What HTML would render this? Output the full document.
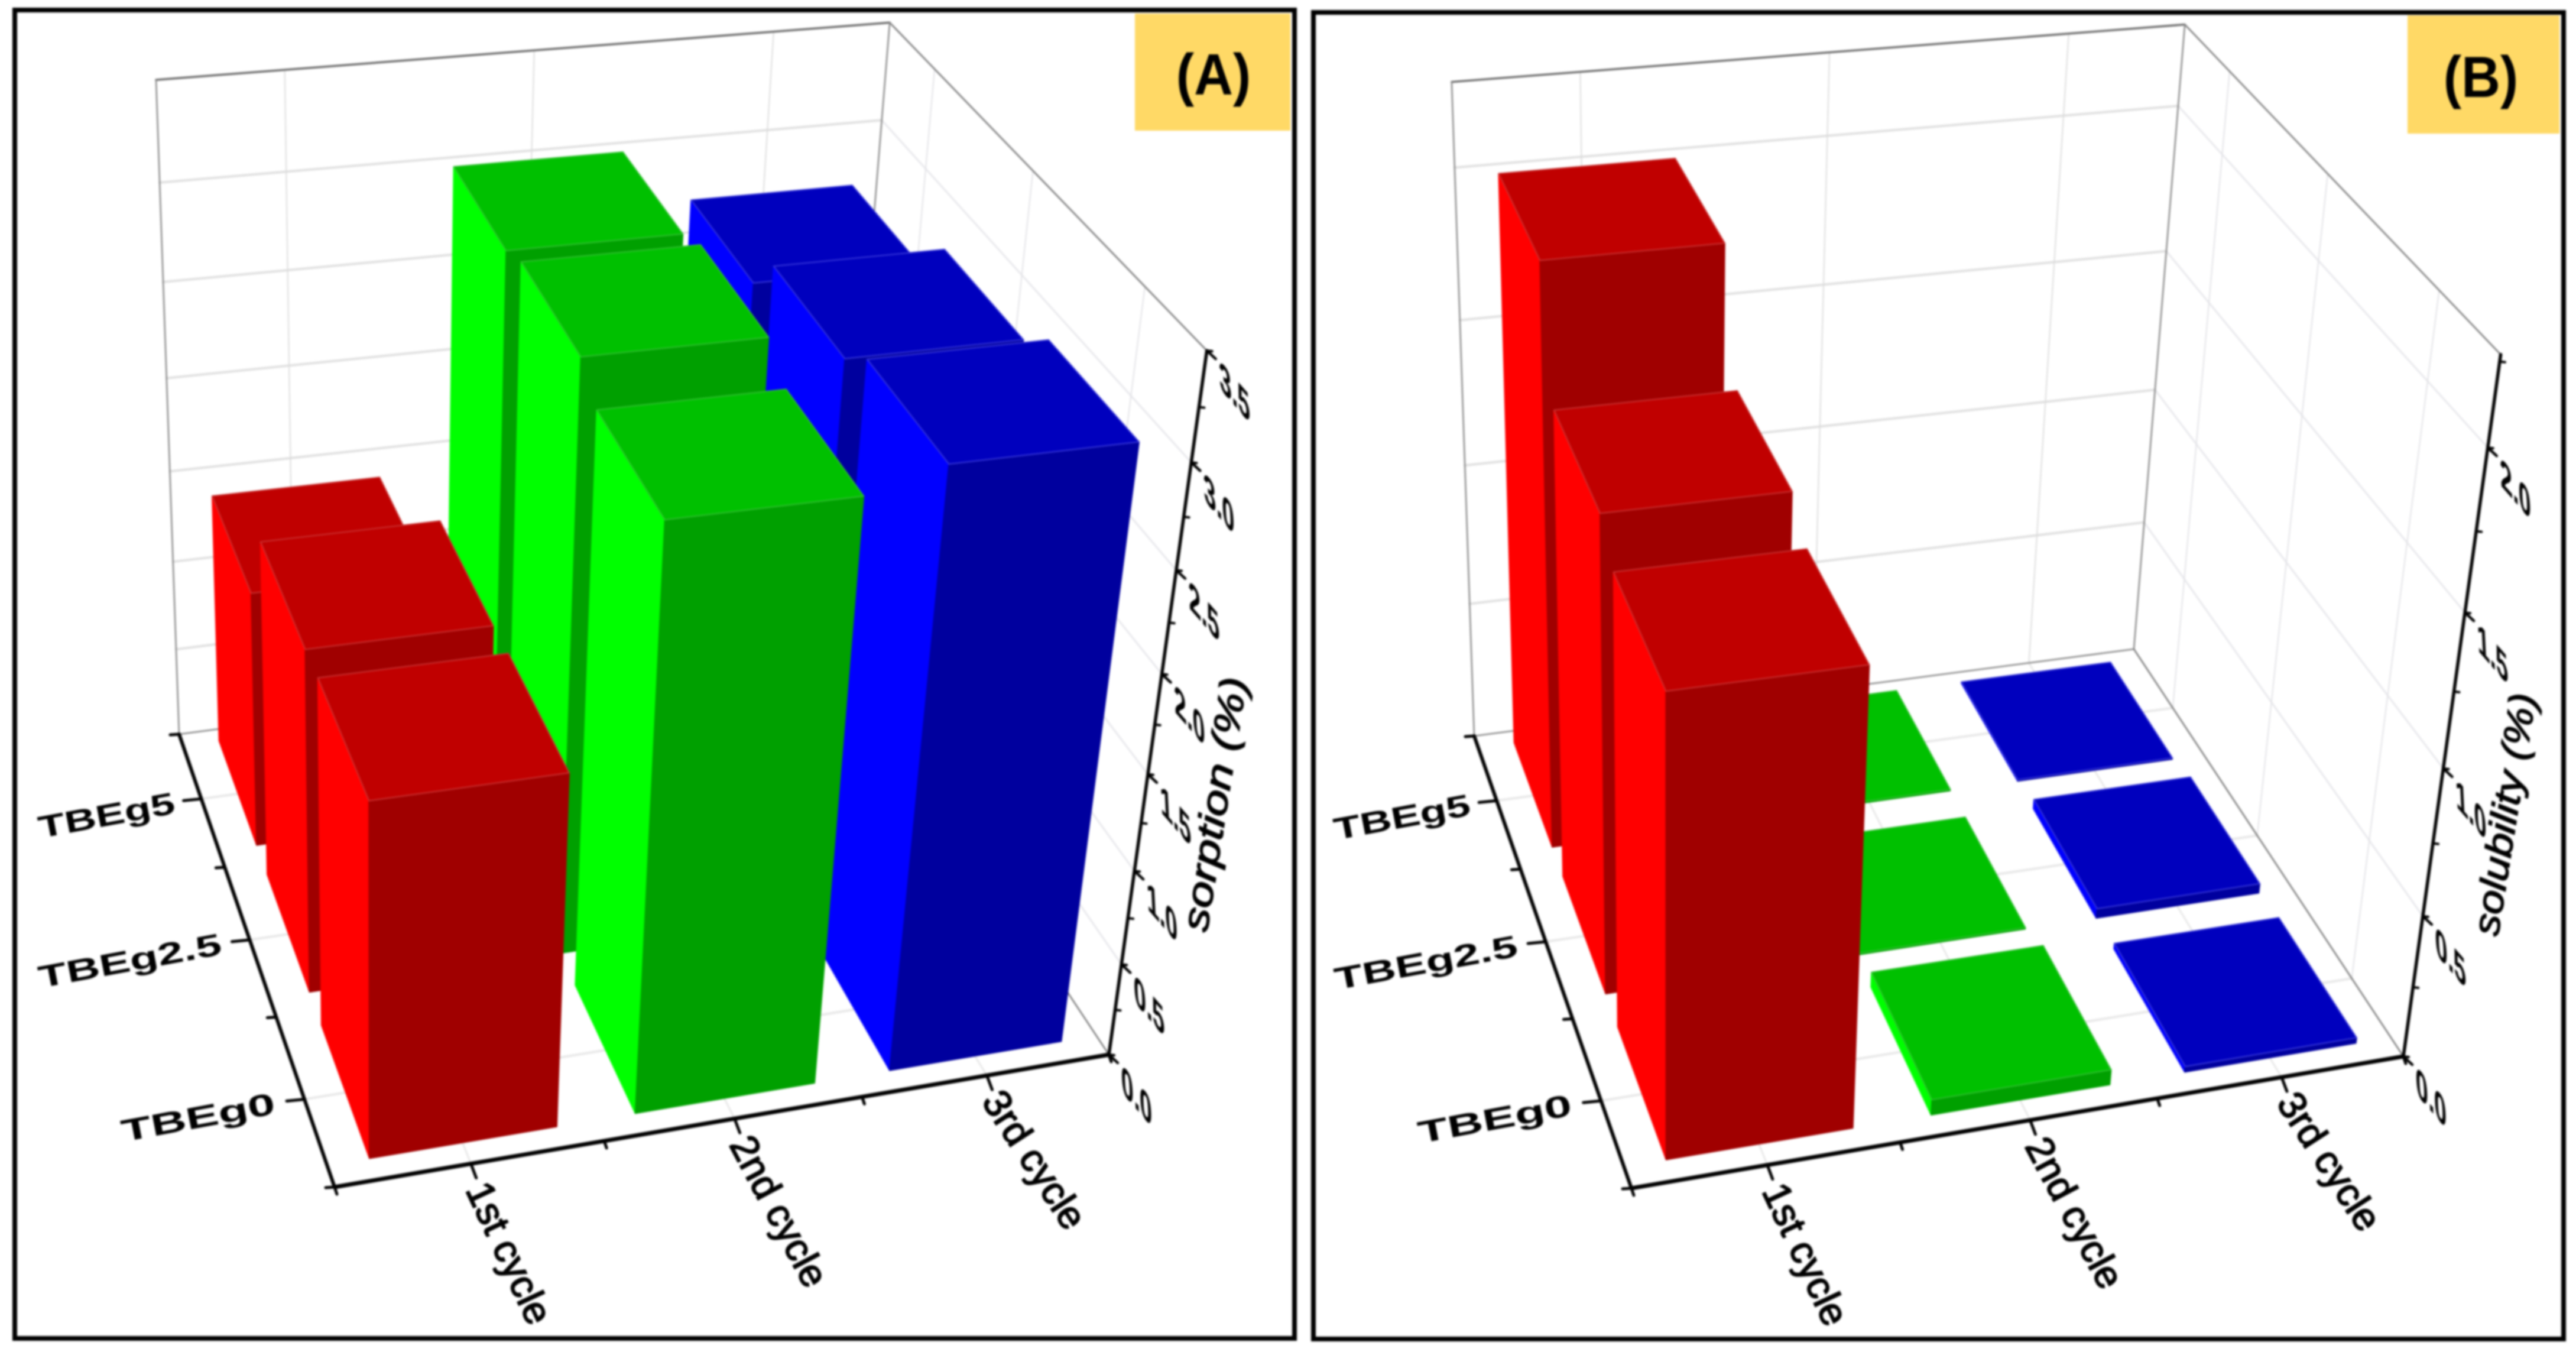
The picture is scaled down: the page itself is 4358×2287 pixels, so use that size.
<!DOCTYPE html>
<html lang="en">
<head>
<meta charset="utf-8">
<title>Sorption and solubility 3D bar charts</title>
<style>
html,body{margin:0;padding:0;background:#fff;}
svg{display:block;filter:blur(1.6px);}
text{font-family:"Liberation Sans",sans-serif;fill:#000;}
</style>
</head>
<body>
<svg id="root" xmlns="http://www.w3.org/2000/svg" width="4358" height="2287" viewBox="0 0 4358 2287">
  <rect x="0" y="0" width="4358" height="2287" fill="#ffffff"/>
  <rect x="25" y="17" width="2165" height="2247" fill="#ffffff" stroke="#000" stroke-width="8"/>
  <rect x="2222" y="21" width="2115" height="2244" fill="#ffffff" stroke="#000" stroke-width="8"/>
  <g id="chart-a"></g>
  <g id="chart-b"></g>
  <rect x="1920" y="23" width="263" height="198" fill="#FFD966"/>
  <text transform="translate(2053,160) scale(.93,1)" text-anchor="middle" font-size="98" font-weight="700">(A)</text>
  <rect x="4073" y="26" width="257" height="200" fill="#FFD966"/>
  <text transform="translate(4197,164) scale(.93,1)" text-anchor="middle" font-size="98" font-weight="700">(B)</text>
</svg>
<script>
// ---------- chart data ----------
const cycles = ['1st cycle', '2nd cycle', '3rd cycle'];
const samples = ['TBEg0', 'TBEg2.5', 'TBEg5'];
// values are ordered by sample: TBEg0, TBEg2.5, TBEg5
const sorptionFirst = [1.82, 1.81, 1.40];
const sorptionSecond = [2.94, 3.06, 3.00];
const sorptionThird = [3.04, 2.92, 2.72];
const solubilityFirst = [1.52, 1.61, 2.00];
const solubilitySecond = [0.054, 0.005, 0.005];
const solubilityThird = [0.02, 0.035, 0.005];
const sorptionTicks = [0, 0.5, 1, 1.5, 2, 2.5, 3, 3.5];
const sorptionTickLabels = ['0.0', '0.5', '1.0', '1.5', '2.0', '2.5', '3.0', '3.5'];
const solubilityTicks = [0, 0.5, 1, 1.5, 2];
const solubilityTickLabels = ['0.0', '0.5', '1.0', '1.5', '2.0'];

// ---------- rendering ----------
const NS = 'http://www.w3.org/2000/svg';
const shades = [
  {side: '#FF0000', top: '#C00000', front: '#A00000', edge: '#C83232'},
  {side: '#00FF00', top: '#00C000', front: '#00A000', edge: '#30C030'},
  {side: '#0000FF', top: '#0000BE', front: '#00009E', edge: '#3838D8'}
];

function node(tag, attrs, parent, text) {
  const n = document.createElementNS(NS, tag);
  for (const k in attrs) n.setAttribute(k, attrs[k]);
  if (text !== undefined) n.textContent = text;
  parent.appendChild(n);
  return n;
}

// Builds a perspective projection for the unit axis cube from its visible corners.
function makeProjection(c) {
  const x0 = c.p000[0], y0 = c.p000[1], x1 = c.p100[0], y1 = c.p100[1];
  const x2 = c.p110[0], y2 = c.p110[1], x3 = c.p010[0], y3 = c.p010[1];
  const dx1 = x1 - x2, dx2 = x3 - x2, sx = x0 - x1 + x2 - x3;
  const dy1 = y1 - y2, dy2 = y3 - y2, sy = y0 - y1 + y2 - y3;
  const det = dx1 * dy2 - dx2 * dy1;
  const g = (sx * dy2 - dx2 * sy) / det;
  const h = (dx1 * sy - sx * dy1) / det;
  const a = x1 - x0 + g * x1, b = x3 - x0 + h * x3;
  const d = y1 - y0 + g * y1, e = y3 - y0 + h * y3;
  const refs = [[0, 1, c.p011], [1, 1, c.p111], [1, 0, c.p101]];
  // least squares for the z column (zx, zy, zw)
  const A = [[0, 0, 0], [0, 0, 0], [0, 0, 0]], B = [0, 0, 0];
  refs.forEach(function (r) {
    const s = r[0], t = r[1], u = r[2][0], v = r[2][1];
    const w = g * s + h * t + 1;
    const nx = a * s + b * t + x0, ny = d * s + e * t + y0;
    const rows = [[1, 0, -u, u * w - nx], [0, 1, -v, v * w - ny]];
    rows.forEach(function (row) {
      for (let i = 0; i < 3; i++) {
        for (let j = 0; j < 3; j++) A[i][j] += row[i] * row[j];
        B[i] += row[i] * row[3];
      }
    });
  });
  const M = A.map(function (row, i) { return row.concat(B[i]); });
  for (let i = 0; i < 3; i++) {
    let p = i;
    for (let r = i + 1; r < 3; r++) if (Math.abs(M[r][i]) > Math.abs(M[p][i])) p = r;
    const tmp = M[i]; M[i] = M[p]; M[p] = tmp;
    for (let r = 0; r < 3; r++) {
      if (r === i) continue;
      const f = M[r][i] / M[i][i];
      for (let k = i; k < 4; k++) M[r][k] -= f * M[i][k];
    }
  }
  const zx = M[0][3] / M[0][0], zy = M[1][3] / M[1][1], zw = M[2][3] / M[2][2];
  return function (s, t, z) {
    const w = g * s + h * t + 1 + zw * z;
    return [(a * s + b * t + x0 + zx * z) / w, (d * s + e * t + y0 + zy * z) / w];
  };
}

function segment(parent, p, q, stroke, width) {
  return node('line', {x1: p[0].toFixed(1), y1: p[1].toFixed(1), x2: q[0].toFixed(1), y2: q[1].toFixed(1),
    stroke: stroke, 'stroke-width': width, 'stroke-linecap': 'round'}, parent);
}
function face(parent, pts, fill, edge) {
  return node('polygon', {points: pts.map(function (p) { return p[0].toFixed(1) + ',' + p[1].toFixed(1); }).join(' '),
    fill: fill, stroke: edge, 'stroke-width': 2, 'stroke-linejoin': 'round'}, parent);
}

function drawChart(cfg) {
  const root = document.getElementById(cfg.id);
  const proj = makeProjection(cfg.corners);
  const X = function (v) { return v / cycles.length; };          // category units → 0..1
  const Y = function (v) { return v / samples.length; };         // category units → 0..1
  const Z = function (v) { return v / cfg.zMax; };               // value → 0..1

  // ---- walls and floor ----
  const grid = node('g', {}, root);
  
  

  cfg.ticks.forEach(function (v) {
    if (v === 0) return;
    const back = segment(grid, proj(0, 1, Z(v)), proj(1, 1, Z(v)), '#e0e0e0', 4);
    
    
    const side = segment(grid, proj(1, 1, Z(v)), proj(1, 0, Z(v)), '#e8e8ec', 3);
    
    
  });
  cycles.forEach(function (c, i) {
    const wall = segment(grid, proj(X(i + .5), 1, 0), proj(X(i + .5), 1, 1), '#dcdcdc', 2);
    
    
    const floor = segment(grid, proj(X(i + .5), 0, 0), proj(X(i + .5), 1, 0), '#e8e8e8', 3);
    
    
  });
  samples.forEach(function (s, j) {
    const wall = segment(grid, proj(1, Y(j + .5), 0), proj(1, Y(j + .5), 1), '#e2e2e6', 2);
    
    
    const floor = segment(grid, proj(0, Y(j + .5), 0), proj(1, Y(j + .5), 0), '#e8e8e8', 4);
    
    
  });

  const outline = [
    [[0, 1, 1], [1, 1, 1], '#6e6e6e', 3.5],
    [[1, 1, 1], [1, 0, 1], '#777777', 2.5],
    [[0, 1, 0], [0, 1, 1], '#888888', 2.5],
    [[1, 1, 0], [1, 1, 1], '#888888', 2.5],
    [[0, 1, 0], [1, 1, 0], '#888888', 2.5],
    [[1, 1, 0], [1, 0, 0], '#777777', 2.5]
  ];
  outline.forEach(function (o) {
    const edge = segment(grid, proj(o[0][0], o[0][1], o[0][2]), proj(o[1][0], o[1][1], o[1][2]), o[2], o[3]);
    
    
  });

  // ---- bars: far rows first, right to left inside a row ----
  for (let j = samples.length - 1; j >= 0; j--) {
    for (let i = cycles.length - 1; i >= 0; i--) {
      const val = cfg.series[i][j];
      const x0 = X(i + .155), x1 = X(i + .855), y0 = Y(j + .12), y1 = Y(j + .91), z = Z(val);
      const col = shades[i];
      const bar = node('g', {}, root);
      
      
      const left = face(bar, [proj(x0, y0, 0), proj(x0, y1, 0), proj(x0, y1, z), proj(x0, y0, z)], col.side, col.side);
      
      
      const front = face(bar, [proj(x0, y0, 0), proj(x1, y0, 0), proj(x1, y0, z), proj(x0, y0, z)], col.front, col.front);
      
      
      const top = face(bar, [proj(x0, y0, z), proj(x1, y0, z), proj(x1, y1, z), proj(x0, y1, z)], col.top, col.edge);
      
      
    }
  }

  // ---- axes ----
  const axes = node('g', {}, root);
  
  

  const xAxis = segment(axes, proj(0, 0, 0), proj(1, 0, 0), '#000', 7);
  
  
  const yAxis = segment(axes, proj(0, 0, 0), proj(0, 1, 0), '#000', 6);
  
  
  const zAxis = segment(axes, proj(1, 0, 0), proj(1, 0, 1), '#000', 5.5);
  
  

  // x ticks and labels
  const xAngles = [65, 62, 57];
  for (let i = 0; i <= cycles.length; i++) {
    const p = proj(X(i), 0, 0);
    const tick = segment(axes, p, [p[0] + 4, p[1] + 12], '#000', 5);
    
    
  }
  cycles.forEach(function (label, i) {
    const p = proj(X(i + .5), 0, 0);
    const tick = segment(axes, p, [p[0] + 9, p[1] + 24], '#000', 5);
    
    
    const t = node('text', {transform: 'translate(' + (p[0] - 10).toFixed(1) + ',' + (p[1] + 44).toFixed(1) + ') rotate(' + xAngles[i] + ')',
      'font-size': 66, stroke: '#000', 'stroke-width': 2}, axes, label);
    
    
  });

  // y ticks and labels
  const yStretch = [1.6, 1.51, 1.42];
  const yLabelShift = [6, 8, 11];
  for (let j = 0; j <= samples.length; j++) {
    const p = proj(0, Y(j), 0);
    const tick = segment(axes, p, [p[0] - 15, p[1] + 1], '#000', 5);
    
    
  }
  samples.forEach(function (label, j) {
    const p = proj(0, Y(j + .5), 0);
    const tick = segment(axes, p, [p[0] - 30, p[1] + 3], '#000', 5);
    
    
    const sx = yStretch[j];
    const ox = p[0] - 53 + yLabelShift[j], oy = p[1] + 24;
    const t = node('text', {transform: 'matrix(' + (sx * .983).toFixed(3) + ',' + (-sx * .182).toFixed(3) + ',.19,.98,' + ox.toFixed(1) + ',' + oy.toFixed(1) + ')',
      'text-anchor': 'end', 'font-size': 52, 'font-weight': 700}, axes, label);
    
    
  });

  // z ticks and labels
  for (let v = 0; v <= cfg.zMax + 1e-6; v += .25) {
    const p = proj(1, 0, Z(v));
    const tick = segment(axes, p, [p[0] + 9, p[1] + 1], '#000', 4);
    
    
  }
  cfg.ticks.forEach(function (v, k) {
    const p = proj(1, 0, Z(v));
    const tick = segment(axes, p, [p[0] + 15, p[1] + 14], '#000', 4.5);
    
    
    const t = node('text', {transform: 'matrix(.52,.6,.05,1,' + (p[0] + 22).toFixed(1) + ',' + (p[1] + 64).toFixed(1) + ')',
      'font-size': 72, 'font-weight': 700}, axes, cfg.tickLabels[k]);
    
    
  });

  // z title
  const title = node('text', {transform: 'translate(' + cfg.title.x + ',' + cfg.title.y + ') rotate(-81) scale(' + cfg.title.sx + ',1)',
    'font-size': 63, 'font-style': 'italic', stroke: '#000', 'stroke-width': 1.6}, axes, cfg.title.text);
  
  
}

drawChart({
  id: 'chart-a', prefix: 'sorption', zMax: 3.5,
  corners: {p000: [566, 2008], p100: [1876, 1784], p010: [303, 1242], p110: [1419, 1095],
            p011: [265, 137], p111: [1504, 35], p101: [2042, 595]},
  series: [sorptionFirst, sorptionSecond, sorptionThird],
  ticks: sorptionTicks, tickLabels: sorptionTickLabels,
  title: {text: 'sorption (%)', x: 2042, y: 1578, sx: 1.28}
});
drawChart({
  id: 'chart-b', prefix: 'solubility', zMax: 2.27,
  corners: {p000: [2760, 2010], p100: [4066, 1787], p010: [2494, 1245], p110: [3610, 1098],
            p011: [2457, 139], p111: [3694, 40], p101: [4232, 601]},
  series: [solubilityFirst, solubilitySecond, solubilityThird],
  ticks: solubilityTicks, tickLabels: solubilityTickLabels,
  title: {text: 'solubility (%)', x: 4226, y: 1585, sx: 1.16}
});
</script>
</body>
</html>
